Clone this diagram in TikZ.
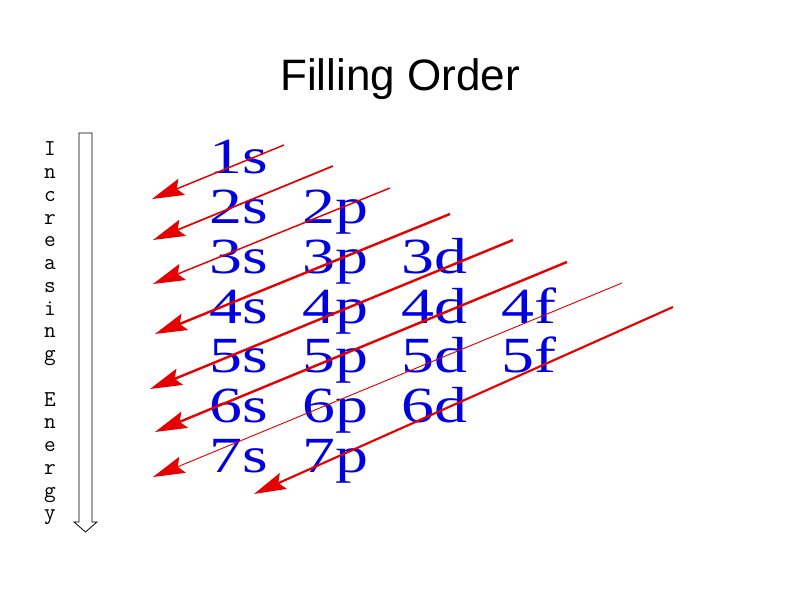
\documentclass[tikz,border=0pt]{standalone}
\usepackage{fontspec}
\usetikzlibrary{arrows.meta}
\setmainfont{Liberation Serif}
\newfontfamily\titlefont{Liberation Sans}
\newfontfamily\orbfont[FakeStretch=1.3]{Liberation Serif}
\definecolor{orbblue}{RGB}{0,0,225}
\definecolor{fillred}{RGB}{230,0,0}

\begin{document}
\begin{tikzpicture}[x=0.75pt,y=-0.75pt]
    \tikzstyle{title} = [font=\titlefont\fontsize{33}{36}\selectfont, inner sep=0pt, anchor=base]
    \tikzstyle{orb} = [font=\orbfont\fontsize{38}{40}\selectfont, text=orbblue, inner sep=0pt, anchor=base west]
    \tikzstyle{letter} = [font=\ttfamily\fontsize{17}{18}\selectfont, inner sep=0pt, anchor=base]
    \tikzstyle{order} = [draw=fillred, -{Stealth[length=24pt, width=13pt, inset=4pt]}]

    \useasboundingbox (0,0) rectangle (794,595);

    \node[title] (title) at (400,91) {Filling Order};

    % energy axis
    \draw[line width=0.6pt, fill=white] (79,133) -- (92,133) -- (92,522) -- (97,522)
        -- (85.5,532) -- (74,522) -- (79,522) -- cycle;
    \foreach \i/\ch in {0/I,1/n,2/c,3/r,4/e,5/a,6/s,7/i,8/n,9/g,11/E,12/n,13/e,14/r,15/g,16/y}
        \node[letter] (e\i) at (50,156+22.75*\i) {\ch};

    % orbitals
    \foreach \l/\x/\rows in {s/209/{1,...,7}, p/302/{2,...,7}, d/401/{3,...,6}, f/501/{4,5}}
        \foreach \n in \rows
            \node[orb] (o\n\l) at (\x,174+49.7*\n-49.7) {\n\l};

    % filling order
    \foreach \i/\sx/\sy/\ex/\ey/\w in {1/284/145/152/199/1.1pt, 2/333/166/153/240/1.3pt,
        3/390/188/153/284/1.1pt, 4/450/214/155/334/1.8pt, 5/513/240/150/389/1.8pt,
        6/567/262/155/432/1.8pt, 7/622/283/153/477/0.7pt, 8/673/307/254/494/1.6pt}
    {
        \coordinate (t\i) at (\sx,\sy);
        \coordinate (h\i) at (\ex,\ey);
        \draw[order, line width=\w] (t\i) -- (h\i);
    }
\end{tikzpicture}
\end{document}
